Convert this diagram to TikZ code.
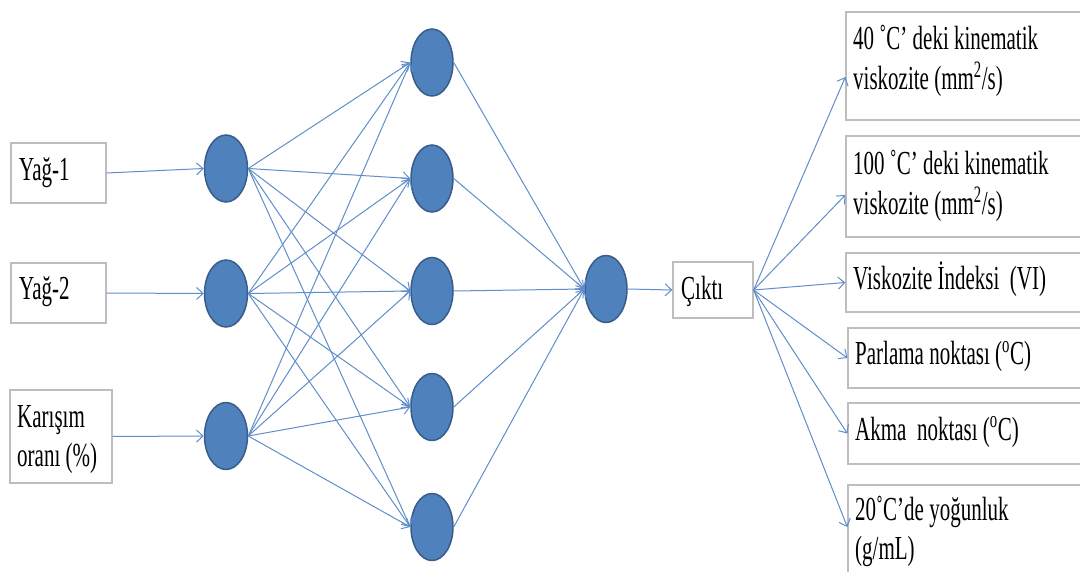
\documentclass[tikz,border=0pt]{standalone}
\usepackage{fontspec}
\setmainfont{Liberation Serif}
\usetikzlibrary{shapes.geometric,arrows.meta}
\definecolor{netblue}{RGB}{79,129,189}
\definecolor{netedge}{RGB}{56,93,138}
\definecolor{linkblue}{RGB}{96,142,203}
\definecolor{boxgray}{RGB}{190,190,190}
% tall, narrow lettering: text is stretched vertically
\newcommand{\tall}[1]{\scalebox{1}[1.6]{\begin{tabular}[t]{@{}l@{}}#1\end{tabular}}}
\tikzset{
  neuron/.style={ellipse,fill=netblue,draw=netedge,line width=1.5pt,
    minimum width=43pt,minimum height=67pt,inner sep=0pt},
  box/.style={rectangle,draw=boxgray,line width=1.3pt,fill=white,inner sep=0pt},
  lbl/.style={anchor=base west,inner sep=0pt,font=\fontsize{21}{24.5}\selectfont},
  link/.style={draw=linkblue,line width=1pt,-{Straight Barb[length=6.5pt,width=12pt]}}
}
\begin{document}
\begin{tikzpicture}[x=1pt,y=-1pt]
\clip (0,0) rectangle (1080,572);
\fill[white] (0,0) rectangle (1080,572);

% input boxes
\node[box,minimum width=95pt,minimum height=60pt] (in1) at (58.5,173) {};
\node[box,minimum width=95pt,minimum height=60pt] (in2) at (58.5,293) {};
\node[box,minimum width=102pt,minimum height=93pt] (in3) at (61,436.5) {};
\node[lbl] (tin1) at (19,181) {\tall{Yağ-1}};
\node[lbl] (tin2) at (19,300) {\tall{Yağ-2}};
\node[lbl] (tin3) at (17,427) {\tall{Karışım\\oranı (\%)}};

% neurons
\node[neuron] (n1) at (226,168.5) {};
\node[neuron] (n2) at (226,293.5) {};
\node[neuron] (n3) at (226,436) {};
\foreach \i/\y in {1/62.5,2/178.5,3/291,4/407,5/527}
  \node[neuron,minimum width=42pt] (h\i) at (432,\y) {};
\node[neuron,minimum width=42pt] (out) at (606,289) {};

% output box and result boxes
\node[box,minimum width=80pt,minimum height=56pt] (cikti) at (713,290) {};
\node[lbl] (tcikti) at (681,300) {\tall{Çıktı}};

\node[box,minimum width=244pt,minimum height=108pt] (o1) at (968,66) {};
\node[box,minimum width=244pt,minimum height=101pt] (o2) at (968,186.5) {};
\node[box,minimum width=244pt,minimum height=59pt] (o3) at (968,282.5) {};
\node[box,minimum width=242pt,minimum height=60pt] (o4) at (969,358) {};
\node[box,minimum width=242pt,minimum height=61pt] (o5) at (969,433.5) {};
\node[box,minimum width=242pt,minimum height=115pt] (o6) at (969,542.5) {};

\node[lbl] (to1) at (853,50) {\tall{40 ˚C’ deki kinematik\\viskozite (mm\textsuperscript{2}/s)}};
\node[lbl] (to2) at (853,175) {\tall{100 ˚C’ deki kinematik\\viskozite (mm\textsuperscript{2}/s)}};
\node[lbl] (to3) at (853,290) {\tall{Viskozite İndeksi \ (VI)}};
\node[lbl] (to4) at (855,365) {\tall{Parlama noktası (\textsuperscript{o}C)}};
\node[lbl] (to5) at (855,440) {\tall{Akma \ noktası (\textsuperscript{o}C)}};
\node[lbl] (to6) at (855,520) {\tall{20˚C’de yoğunluk\\(g/mL)}};

% connections
\draw[link] (in1.east) -- (n1.west);
\draw[link] (in2.east) -- (n2.west);
\draw[link] (in3.east) -- (n3.west);
\foreach \a in {1,2,3}
  \foreach \b in {1,...,5}
    \draw[link] (n\a.east) -- (h\b.west);
\foreach \b in {1,...,5}
  \draw[link] (h\b.east) -- (out.west);
\draw[link] (out.east) -- (cikti.west);
\draw[link] (cikti.east) -- ([yshift=-11pt]o1.west);
\draw[link] (cikti.east) -- ([yshift=-8.5pt]o2.west);
\draw[link] (cikti.east) -- (o3.west);
\draw[link] (cikti.east) -- (o4.west);
\draw[link] (cikti.east) -- (o5.west);
\draw[link] (cikti.east) -- ([yshift=15.5pt]o6.west);
\end{tikzpicture}
\end{document}
